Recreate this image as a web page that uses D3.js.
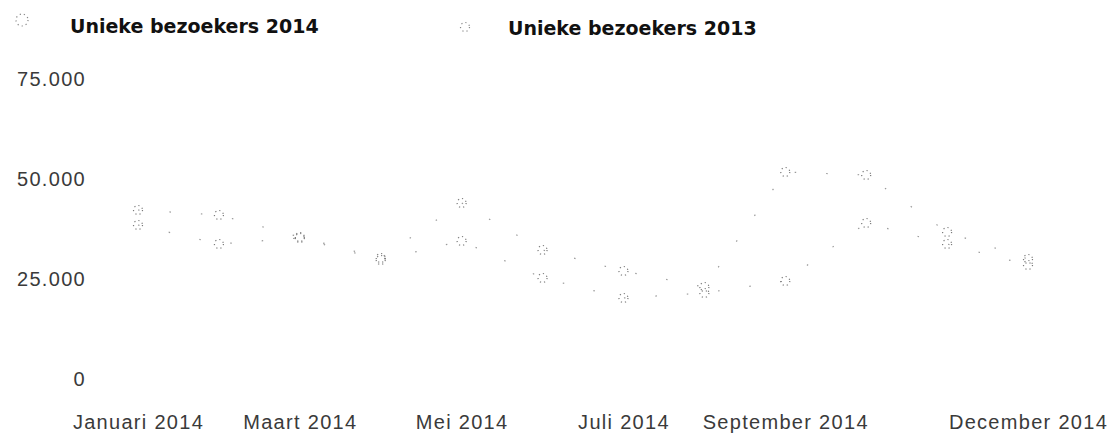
<!DOCTYPE html>
<html>
<head>
<meta charset="utf-8">
<script src="https://cdn.jsdelivr.net/npm/d3@7.9.0/dist/d3.min.js"></script>
<style>
  html, body { margin: 0; padding: 0; background: #fff; }
  svg { display: block; font-family: "DejaVu Sans", Verdana, sans-serif; }
  .axis text { fill: #3a3a3a; font-size: 20px; letter-spacing: 1.3px; }
  .legend text { fill: #111; font-size: 19px; font-weight: bold; }
</style>
</head>
<body>
<div id="chart"></div>
<script>
const months = ["Januari", "Februari", "Maart", "April", "Mei", "Juni", "Juli",
  "Augustus", "September", "Oktober", "November", "December"];
const tickMonths = ["Januari", "Maart", "Mei", "Juli", "September", "December"];
const yTicks = [0, 25000, 50000, 75000];
const seriesNames = ["Unieke bezoekers 2014", "Unieke bezoekers 2013"];

// rounded
const visitors2014 = [42250, 41000, 35500, 30250, 44000, 32250, 27000, 23000, 51750, 51000, 36750, 30000];
const visitors2013 = [38500, 33750, 35250, 29750, 34500, 25250, 20250, 21500, 24500, 39000, 33750, 28500];

const width = 1110;
const height = 439;

const nl = d3.formatLocale({ decimal: ",", thousands: ".", grouping: [3], currency: ["€", ""] });
const formatNumber = nl.format(",");

const svg = d3.select("#chart")
  .append("svg")
  .attr("width", width)
  .attr("height", height);

const xScale = d3.scalePoint()
  .domain(months)
  .range([138, 1028]);

const yScale = d3.scaleLinear()
  .domain([0, 75000])
  .range([379, 79]);

// axes, no lines, just labels
const yAxis = svg.append("g")
  .attr("class", "axis")
  .attr("transform", "translate(86, 0)")
  .call(d3.axisLeft(yScale).tickValues(yTicks).tickFormat(formatNumber).tickSize(0).tickPadding(0));
yAxis.select(".domain").remove();

const xAxis = svg.append("g")
  .attr("class", "axis")
  .attr("transform", "translate(0, 412)")
  .call(d3.axisBottom(xScale).tickValues(tickMonths).tickFormat((d) => d + " 2014").tickSize(0));
xAxis.select(".domain").remove();
svg.selectAll(".axis text").attr("font-family", null).attr("font-size", null);

const series = [
  { name: seriesNames[0], values: visitors2014 },
  { name: seriesNames[1], values: visitors2013 },
];

const line = d3.line()
  .x((d, i) => xScale(months[i]))
  .y((d) => yScale(d));

const plot = svg.append("g").attr("class", "plot");

plot.selectAll("path.series")
  .data(series)
  .join("path")
  .attr("class", "series")
  .attr("d", (d) => line(d.values))
  .attr("fill", "none")
  .attr("stroke", "#9a9a9a")
  .attr("stroke-width", 1.2)
  .attr("stroke-dasharray", "1.5 30");

for (let s of series) {
  plot.append("g")
    .selectAll("circle")
    .data(s.values)
    .join("circle")
    .attr("cx", (d, i) => xScale(months[i]))
    .attr("cy", (d) => yScale(d))
    .attr("r", 4.5)
    .attr("fill", "none")
    .attr("stroke", "#7a7a7a")
    .attr("stroke-width", 1.2)
    .attr("stroke-dasharray", "1.2 3");
}

// legend
const legendItems = [
  { name: seriesNames[0], x: 22, y: 20, r: 6, tx: 70, ty: 26 },
  { name: seriesNames[1], x: 465, y: 27, r: 4.5, tx: 508, ty: 28 },
];

const legend = svg.append("g").attr("class", "legend");
for (let item of legendItems) {
  legend.append("circle")
    .attr("cx", item.x)
    .attr("cy", item.y)
    .attr("r", item.r)
    .attr("fill", "none")
    .attr("stroke", "#888")
    .attr("stroke-width", 1.2)
    .attr("stroke-dasharray", "1.2 3");
  legend.append("text")
    .attr("x", item.tx)
    .attr("y", item.ty)
    .attr("dy", "0.35em")
    .text(item.name);
}
</script>
</body>
</html>
